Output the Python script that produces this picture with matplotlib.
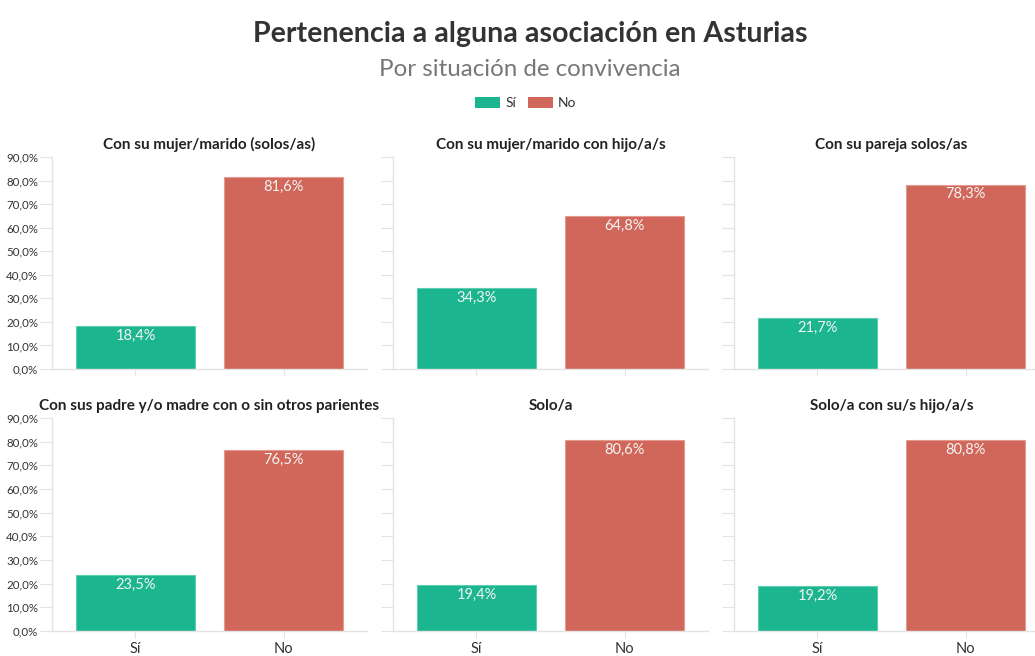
import matplotlib.pyplot as plt
from matplotlib.patches import Patch
from matplotlib.ticker import FuncFormatter

# data
PANELS = [
    "Con su mujer/marido (solos/as)",
    "Con su mujer/marido con hijo/a/s",
    "Con su pareja solos/as",
    "Con sus padre y/o madre con o sin otros parientes",
    "Solo/a",
    "Solo/a con su/s hijo/a/s",
]
CATEGORIES = ["Sí", "No"]
SI_VALUES = [18.4, 34.3, 21.7, 23.5, 19.4, 19.2]
NO_VALUES = [81.6, 64.8, 78.3, 76.5, 80.6, 80.8]

GREEN = "#1bb58f"
RED = "#d1675a"
AXIS_GREY = "#e3e3e3"
TEXT = "#333333"

plt.rcParams["font.family"] = ["Lato", "DejaVu Sans"]

fig = plt.figure(figsize=(10.35, 6.56), dpi=100)
W, H = 1035, 656

lefts = [52, 393, 734]
rows = [(157, 369), (418, 631)]
panel_w = 315


def pct(v, _pos):
    return f"{v:.1f}%".replace(".", ",")


for idx, name in enumerate(PANELS):
    r, c = divmod(idx, 3)
    top, bottom = rows[r]
    ax = fig.add_axes([lefts[c] / W, 1 - bottom / H, panel_w / W, (bottom - top) / H])
    vals = [SI_VALUES[idx], NO_VALUES[idx]]
    bars = ax.bar(range(2), vals, width=0.804, color=[GREEN, RED],
                  edgecolor=["#5fcdb1", "#e39a90"], linewidth=0.8)
    for b, v in zip(bars, vals):
        ax.text(b.get_x() + b.get_width() / 2, v - 1.2, f"{v:.1f}%".replace(".", ","),
                ha="center", va="top", color="#f4f4f4", fontsize=10.5)
    ax.set_xlim(-0.564, 1.564)
    ax.set_ylim(0, 90)
    ax.set_yticks(range(0, 91, 10))
    ax.yaxis.set_major_formatter(FuncFormatter(pct))
    ax.set_xticks(range(2))
    ax.set_xticklabels(CATEGORIES if r == 1 else ["", ""])
    ax.tick_params(axis="y", length=9, color=AXIS_GREY, labelsize=8.3, labelcolor=TEXT, pad=1,
                   labelleft=(c == 0))
    ax.tick_params(axis="x", length=5, color=AXIS_GREY, labelsize=10.5, labelcolor=TEXT, pad=3)
    for side in ["top", "right"]:
        ax.spines[side].set_visible(False)
    for side in ["left", "bottom"]:
        ax.spines[side].set_color(AXIS_GREY)
        ax.spines[side].set_linewidth(1)
    ax.set_title(name, fontsize=11, fontweight="bold", color="#222222", pad=6)

fig.text(530 / W, 1 - 34 / H, "Pertenencia a alguna asociación en Asturias", ha="center", va="center",
         fontsize=20.6, fontweight="bold", color="#333333")
fig.text(530 / W, 1 - 69 / H, "Por situación de convivencia", ha="center", va="center",
         fontsize=17.4, color="#777777")

handles = [Patch(facecolor=GREEN, edgecolor="none", label="Sí"),
           Patch(facecolor=RED, edgecolor="none", label="No")]
fig.legend(handles=handles, loc="center", bbox_to_anchor=(526 / W, 1 - 103 / H), ncol=2, frameon=False,
           fontsize=10, handlelength=1.75, handleheight=0.85, handletextpad=0.4, columnspacing=0.9,
           labelcolor=TEXT)

fig.savefig("out.png", dpi=100)
